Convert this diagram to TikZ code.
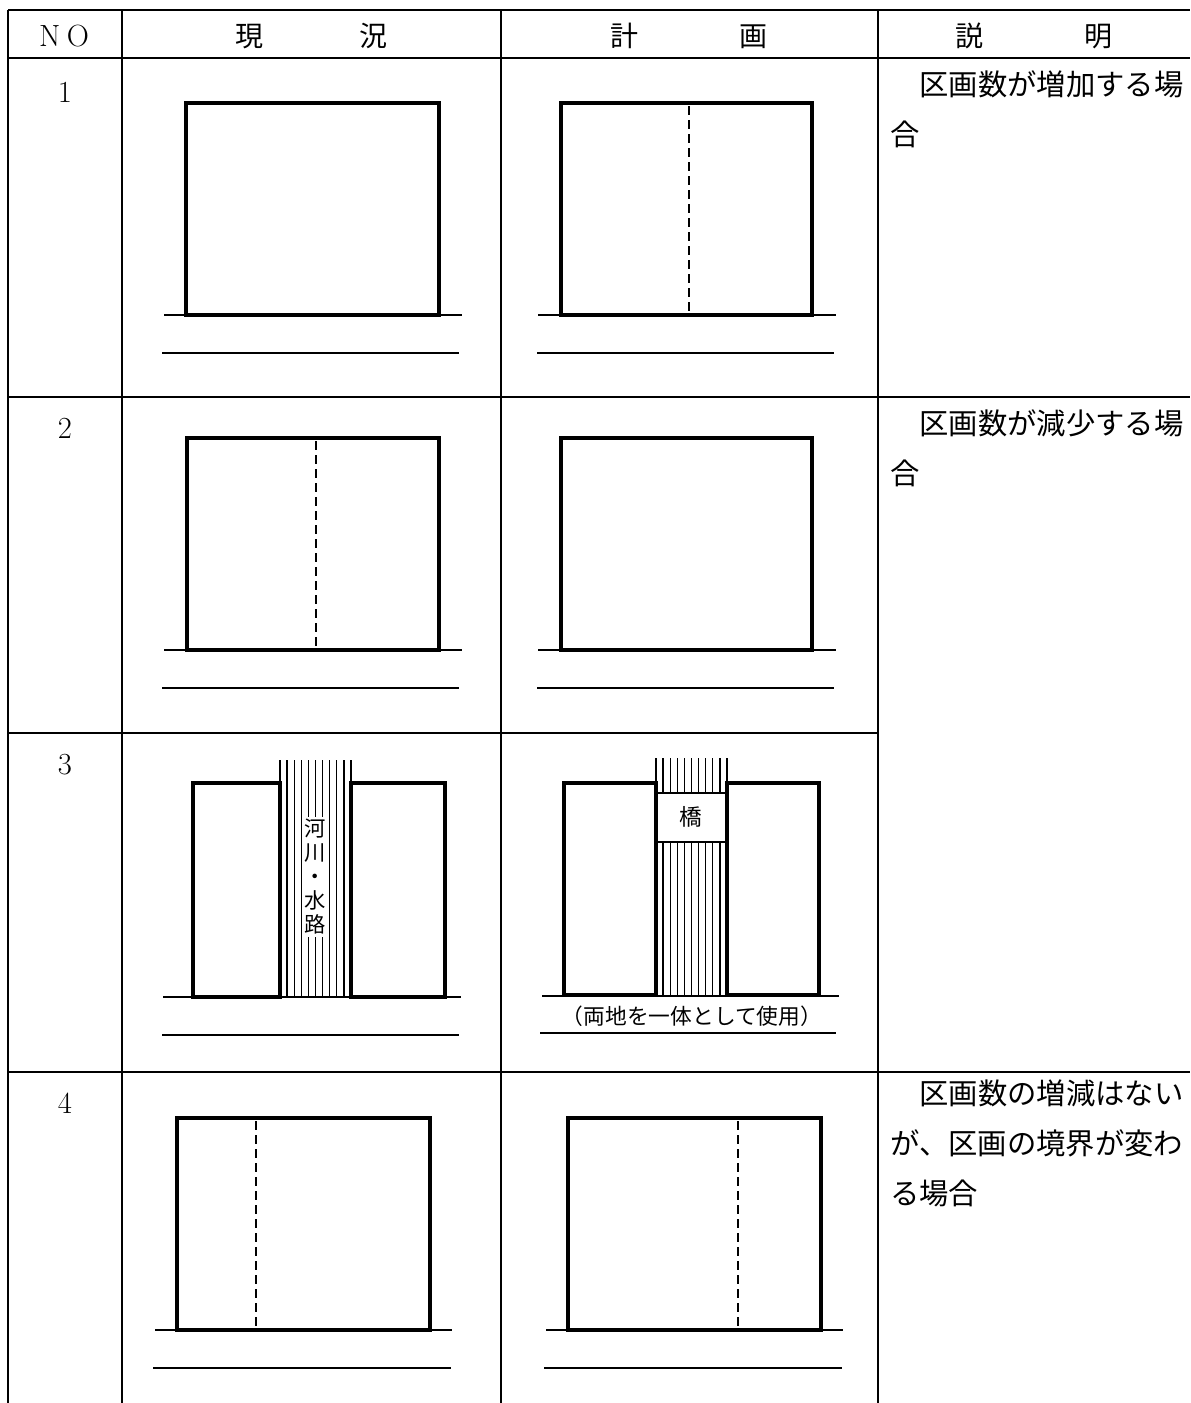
\documentclass[tikz,border=0pt]{standalone}
\usepackage{fontspec}
\newfontfamily\jpfont{Noto Sans CJK JP}
\usetikzlibrary{positioning}

\tikzset{
  tblline/.style={line width=1.5pt},
  lotbox/.style={line width=2.6pt},
  roadline/.style={line width=1.2pt},
  splitline/.style={line width=1.3pt, dash pattern=on 6.5pt off 4pt},
  hatchline/.style={line width=1pt},
  headtext/.style={font=\jpfont\fontsize{21}{25}\selectfont},
  numtext/.style={font=\fontsize{23}{27}\selectfont},
  desctext/.style={font=\jpfont\fontsize{22}{37.5}\selectfont, align=left, anchor=north west, inner sep=0pt},
}

\begin{document}
\begin{tikzpicture}[x=0.75pt,y=-0.75pt]
\useasboundingbox (0,0) rectangle (1190,1403);

% table rules
\draw[tblline] (8,10) -- (1190,10);
\draw[tblline] (8,58) -- (1190,58);
\draw[tblline] (8,397) -- (1190,397);
\draw[tblline] (8,733) -- (878,733);
\draw[tblline] (8,1072) -- (1190,1072);
\foreach \cx in {8,122,501,878}
  \draw[tblline] (\cx,10) -- (\cx,1403);

% header
\node[numtext] (hdno) at (64,36) {N\kern5pt O};
\node[headtext] (hdcur) at (311,36) {現\hspace{72pt}況};
\node[headtext] (hdplan) at (689,36) {計\hspace{76pt}画};
\node[headtext] (hddesc) at (1034,36) {説\hspace{76pt}明};

% row numbers
\node[numtext] (no1) at (65,92) {1};
\node[numtext] (no2) at (65,428) {2};
\node[numtext] (no3) at (65,765) {3};
\node[numtext] (no4) at (65,1103) {4};

% descriptions
\node[desctext] (desc1) at (890,70) {　区画数が増加する場\\合};
\node[desctext] (desc2) at (890,409) {　区画数が減少する場\\合};
\node[desctext] (desc4) at (890,1080) {　区画数の増減はない\\が、区画の境界が変わ\\る場合};

% row 1
\draw[roadline] (164,315) -- (462,315);
\draw[roadline] (162,353) -- (459,353);
\draw[lotbox] (186,103) rectangle (439,315);
\draw[roadline] (538,315) -- (836,315);
\draw[roadline] (537,353) -- (834,353);
\draw[lotbox] (561,103) rectangle (812,315);
\draw[splitline] (689,106) -- (689,313);

% row 2
\draw[roadline] (164,650) -- (462,650);
\draw[roadline] (162,688) -- (459,688);
\draw[lotbox] (187,438) rectangle (439,650);
\draw[splitline] (316,441) -- (316,648);
\draw[roadline] (538,650) -- (836,650);
\draw[roadline] (537,688) -- (834,688);
\draw[lotbox] (561,438) rectangle (812,650);

% row 3, current
\foreach \hx in {0,...,10}
  \draw[hatchline] ({280+7.1*\hx},760) -- ({280+7.1*\hx},997);
\draw[roadline] (163,997) -- (461,997);
\draw[roadline] (162,1035) -- (459,1035);
\draw[lotbox] (193,783) rectangle (280,997);
\draw[lotbox] (351,783) rectangle (445,997);
\node[fill=white, inner sep=1.5pt, align=center, font=\jpfont\fontsize{16}{18}\selectfont] (river) at (315,877) {河\\川\\・\\水\\路};

% row 3, plan
\foreach \hx in {0,...,10}
  \draw[hatchline] ({656+7.1*\hx},758) -- ({656+7.1*\hx},995);
\draw[hatchline, fill=white] (656,793) rectangle (727,842);
\node[font=\jpfont\fontsize{17}{20}\selectfont] (bridge) at (691,817) {橋};
\draw[roadline] (542,996) -- (839,996);
\draw[roadline] (540,1033) -- (836,1033);
\draw[lotbox] (564,783) rectangle (656,995);
\draw[lotbox] (727,783) rectangle (819,995);
\node[font=\jpfont\fontsize{16.3}{20}\selectfont] (joint) at (692,1016) {（両地を一体として使用）};

% row 4
\draw[roadline] (155,1330) -- (452,1330);
\draw[roadline] (153,1368) -- (451,1368);
\draw[lotbox] (177,1118) rectangle (430,1330);
\draw[splitline] (256,1121) -- (256,1328);
\draw[roadline] (546,1330) -- (843,1330);
\draw[roadline] (544,1368) -- (842,1368);
\draw[lotbox] (568,1118) rectangle (821,1330);
\draw[splitline] (738,1121) -- (738,1328);
\end{tikzpicture}
\end{document}
